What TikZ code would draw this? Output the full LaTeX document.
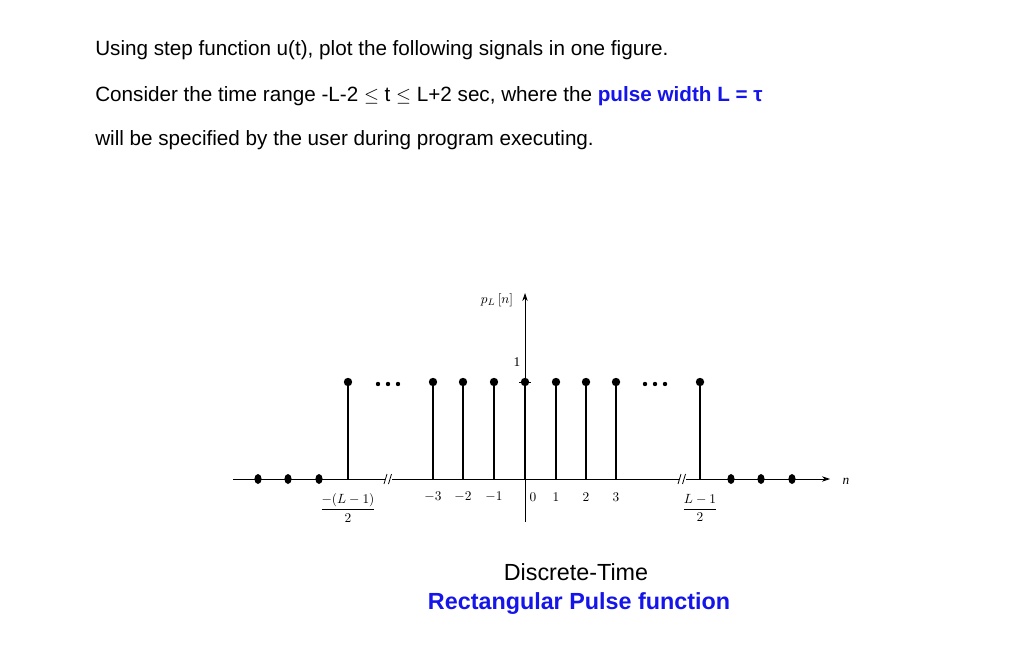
\documentclass[tikz,border=0pt]{standalone}
\usepackage{fontspec}
\setmainfont{Liberation Sans}
\newfontfamily\serifm{Liberation Serif}
\usetikzlibrary{arrows.meta}
\definecolor{pblue}{RGB}{20,20,235}
\begin{document}
\begin{tikzpicture}[x=0.75pt,y=-0.75pt,
  txt/.style={anchor=west,inner sep=0pt,font=\fontsize{15.5}{18}\selectfont},
  captxt/.style={inner sep=0pt,font=\fontsize{17.5}{20}\selectfont},
  lab/.style={inner sep=0pt,font=\serifm\fontsize{10}{12}\selectfont},
  stem/.style={line width=1.1pt},
  sdot/.style={fill=black,draw=none},
  ax/.style={line width=0.6pt}]
\useasboundingbox (0,0) rectangle (1017,670);
\node[txt] (l1) at (95,50) {Using step function u(t), plot the following signals in one figure.};
\node[txt] (l2) at (95,96) {Consider the time range -L-2 \(\le\) t \(\le\) L+2 sec, where the \textcolor{pblue}{\textbf{pulse width L = τ}}};
\node[txt] (l3) at (95,140) {will be specified by the user during program executing.};
% axes
\coordinate (xs) at (233,479); \coordinate (xe) at (830,479);
\coordinate (ys) at (525,522); \coordinate (ye) at (525,293);
\draw[ax,-{Stealth[length=6pt,width=4pt]}] (xs) -- (xe);
\draw[ax,-{Stealth[length=6pt,width=4pt]}] (ys) -- (ye);
\node[lab,font=\serifm\itshape\fontsize{10}{12}\selectfont] (n) at (846,481) {n};
\node[lab] (pl) at (497,300) {\(p_L\,[n]\)};
\node[lab] (one) at (517,362) {1};
% stems
\foreach \x in {348,433,463,494,525,556,586,616,700}{
  \draw[stem] (\x,479) -- (\x,382);
  \fill[sdot] (\x,382) circle (4.2);}
\draw[ax] (519,382) -- (531,382);
\foreach \x in {258,288,319,731,761,792}
  \fill[sdot] (\x,479) ellipse (3.6 and 5);
\foreach \x in {378,388,398,645,655,665}
  \fill[sdot] (\x,384) circle (2.2);
% breaks
\foreach \x in {388,682}{
  \draw[ax,fill=white,draw=white] (\x-3,474) rectangle (\x+3,484);
  \draw[ax] (\x-4,484) -- (\x-1,474);
  \draw[ax] (\x+0.5,484) -- (\x+3.5,474);}
% tick labels
\node[lab] (m1) at (348,508) {\(\displaystyle\frac{-(L-1)}{2}\)};
\node[lab] (p1) at (700,508) {\(\displaystyle\frac{L-1}{2}\)};
\foreach \x/\t in {433/{-3},463/{-2},494/{-1},533/0,556/1,586/2,616/3}
  \node[lab] at (\x,497) {\(\t\)};
\node[captxt] (c1) at (576,572) {Discrete-Time};
\node[captxt,text=pblue,font=\bfseries\fontsize{17.5}{20}\selectfont] (c2) at (579,604) {Rectangular Pulse function};
\end{tikzpicture}
\end{document}
